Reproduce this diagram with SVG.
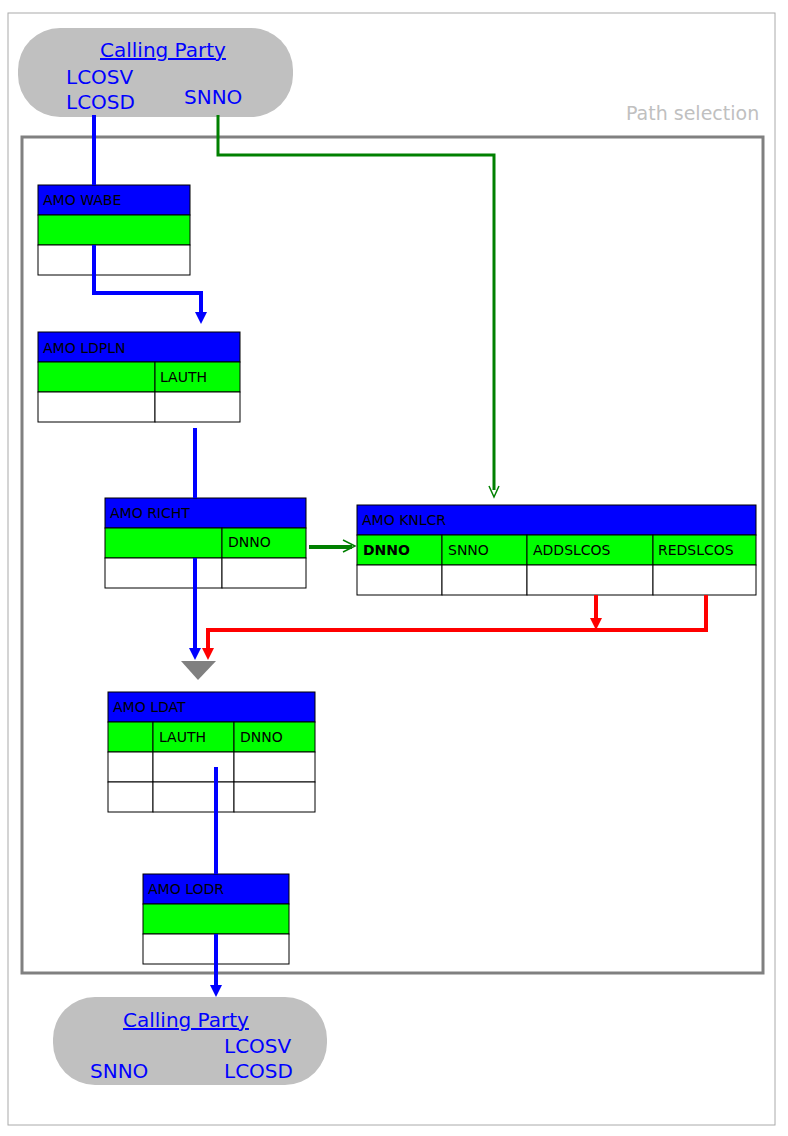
<svg xmlns="http://www.w3.org/2000/svg" width="788" height="1136" viewBox="0 0 788 1136">
<style>
text{font-family:"DejaVu Sans","Liberation Sans",sans-serif}
.t{font-size:14px;fill:#000}
.h{fill:#0000ff;stroke:#000;stroke-width:1}
.g{fill:#00ff00;stroke:#000;stroke-width:1}
.w{fill:#fff;stroke:#000;stroke-width:1}
.p{fill:#c0c0c0}
.pt{font-size:20px;fill:#0000ff}
.bl{stroke:#0000ff;stroke-width:4;fill:none}
.gr{stroke:#008000;stroke-width:3;fill:none}
.rd{stroke:#ff0000;stroke-width:4;fill:none}
</style>
<defs>
<marker id="ab" markerWidth="4" markerHeight="4" refX="2" refY="4" orient="auto-start-reverse" markerUnits="userSpaceOnUse" viewBox="0 0 4 4"><path d="M0,0L4,0L2,4z" fill="#0000ff"/></marker>
</defs>
<rect x="8" y="13" width="767" height="1112" fill="#fff" stroke="#aaa"/>
<rect x="22" y="137" width="741" height="836" fill="none" stroke="#808080" stroke-width="3"/>
<text x="626" y="120" style="font-size:19px;fill:#c0c0c0">Path selection</text>
<g id="calling-top"><rect class="p" x="18" y="28" width="275" height="89" rx="42"/>
<text class="pt" x="100" y="57" text-decoration="underline">Calling Party</text>
<text class="pt" x="66" y="84">LCOSV</text><text class="pt" x="66" y="109">LCOSD</text><text class="pt" x="184" y="104">SNNO</text></g>
<g id="calling-bottom"><rect class="p" x="53" y="997" width="274" height="88" rx="42"/>
<text class="pt" x="123" y="1027" text-decoration="underline">Calling Party</text>
<text class="pt" x="224" y="1053">LCOSV</text><text class="pt" x="224" y="1078">LCOSD</text><text class="pt" x="90" y="1078">SNNO</text></g>
<g id="wabe"><rect class="h" x="38" y="185" width="152" height="30"/><rect class="g" x="38" y="215" width="152" height="30"/><rect class="w" x="38" y="245" width="152" height="30"/>
<text class="t" x="43" y="205">AMO  WABE</text></g>
<g id="ldpln"><rect class="h" x="38" y="332" width="202" height="30"/><rect class="g" x="38" y="362" width="117" height="30"/><rect class="g" x="155" y="362" width="85" height="30"/><rect class="w" x="38" y="392" width="117" height="30"/><rect class="w" x="155" y="392" width="85" height="30"/>
<text class="t" x="43" y="353">AMO  LDPLN</text><text class="t" x="160" y="382">LAUTH</text></g>
<g id="richt"><rect class="h" x="105" y="498" width="201" height="30"/><rect class="g" x="105" y="528" width="117" height="30"/><rect class="g" x="222" y="528" width="84" height="30"/><rect class="w" x="105" y="558" width="117" height="30"/><rect class="w" x="222" y="558" width="84" height="30"/>
<text class="t" x="110" y="518">AMO  RICHT</text><text class="t" x="228" y="547">DNNO</text></g>
<g id="knlcr"><rect class="h" x="357" y="505" width="399" height="30"/>
<rect class="g" x="357" y="535" width="85" height="30"/><rect class="g" x="442" y="535" width="85" height="30"/><rect class="g" x="527" y="535" width="126" height="30"/><rect class="g" x="653" y="535" width="103" height="30"/>
<rect class="w" x="357" y="565" width="85" height="30"/><rect class="w" x="442" y="565" width="85" height="30"/><rect class="w" x="527" y="565" width="126" height="30"/><rect class="w" x="653" y="565" width="103" height="30"/>
<text class="t" x="362" y="525">AMO  KNLCR</text><text class="t" x="363" y="555" font-weight="bold">DNNO</text><text class="t" x="448" y="555">SNNO</text><text class="t" x="533" y="555">ADDSLCOS</text><text class="t" x="658" y="555">REDSLCOS</text></g>
<g id="ldat"><rect class="h" x="108" y="692" width="207" height="30"/>
<rect class="g" x="108" y="722" width="45" height="30"/><rect class="g" x="153" y="722" width="81" height="30"/><rect class="g" x="234" y="722" width="81" height="30"/>
<rect class="w" x="108" y="752" width="45" height="30"/><rect class="w" x="153" y="752" width="81" height="30"/><rect class="w" x="234" y="752" width="81" height="30"/>
<rect class="w" x="108" y="782" width="45" height="30"/><rect class="w" x="153" y="782" width="81" height="30"/><rect class="w" x="234" y="782" width="81" height="30"/>
<text class="t" x="113" y="712">AMO  LDAT</text><text class="t" x="159" y="742">LAUTH</text><text class="t" x="240" y="742">DNNO</text></g>
<g id="lodr"><rect class="h" x="143" y="874" width="146" height="30"/><rect class="g" x="143" y="904" width="146" height="30"/><rect class="w" x="143" y="934" width="146" height="30"/>
<text class="t" x="148" y="894">AMO  LODR</text></g>
<g id="merge"><path d="M181,661L216,661L198,680z" fill="#808080"/></g>
<g id="connectors">
<path class="bl" d="M94,115V185"/>
<path class="bl" d="M94,245V293H201V313"/><path d="M195,312h12l-6,12z" fill="#0000ff"/>
<path class="bl" d="M195,428V498"/>
<path class="bl" d="M195,558V650"/><path d="M189,648h12l-6,12z" fill="#0000ff"/>
<path class="bl" d="M216,767V874"/>
<path class="bl" d="M216,934V987"/><path d="M210,985h12l-6,12z" fill="#0000ff"/>
<path class="gr" d="M218,115V155H494V490"/><path d="M489,486l5,11l5,-11" fill="none" stroke="#008000" stroke-width="1.5"/>
<path d="M309,547H352" stroke="#008000" stroke-width="4"/><path d="M343,540l12,6l-12,6" fill="none" stroke="#008000" stroke-width="1.5"/>
<path class="rd" d="M596,595V620"/><path d="M590,618h12l-6,12z" fill="#ff0000"/>
<path class="rd" d="M706,595V630H208V650"/><path d="M202,648h12l-6,12z" fill="#ff0000"/>
</g>
</svg>
